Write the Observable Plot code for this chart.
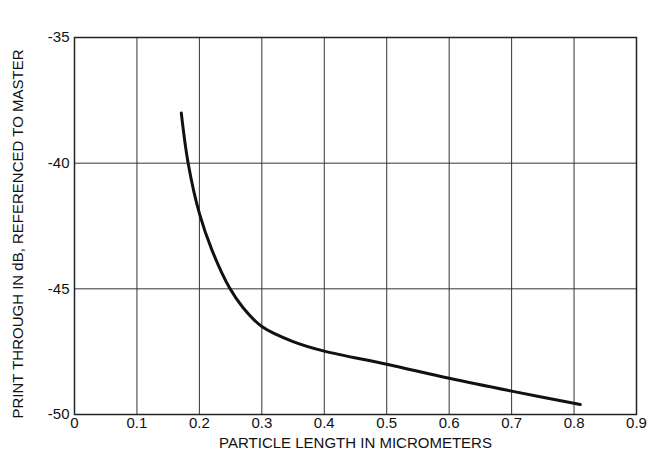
<!DOCTYPE html>
<html><head><meta charset="utf-8">
<script src="https://cdn.jsdelivr.net/npm/d3@7"></script>
<script src="https://cdn.jsdelivr.net/npm/@observablehq/plot@0.6"></script>
<style>body{margin:0;background:#fff}</style>
</head><body><div id="chart"></div>
<script>
const particleLength = [0.171, 0.182, 0.2, 0.22, 0.248, 0.27, 0.3, 0.35, 0.4, 0.5, 0.6, 0.7, 0.81];
const printThrough = [-38.0, -40.0, -42.0, -43.45, -44.95, -45.75, -46.5, -47.1, -47.48, -48.0, -48.56, -49.07, -49.6];
const xTicks = [0, 0.1, 0.2, 0.3, 0.4, 0.5, 0.6, 0.7, 0.8, 0.9];
const xTickLabels = ["0", "0.1", "0.2", "0.3", "0.4", "0.5", "0.6", "0.7", "0.8", "0.9"];
const yTicks = [-50, -45, -40, -35];
const yTickLabels = ["-50", "-45", "-40", "-35"];
const xLabel = "PARTICLE LENGTH IN MICROMETERS";
const yLabel = "PRINT THROUGH IN dB, REFERENCED TO MASTER";

const data = particleLength.map((x, i) => ({x, y: printThrough[i]}));

const chart = Plot.plot({
  width: 663, height: 456,
  marginLeft: 74, marginRight: 27, marginTop: 37, marginBottom: 42,
  style: {fontFamily: "Liberation Sans, Arial, sans-serif", fontSize: "15px", color: "#111", background: "#fff"},
  x: {domain: [0, 0.9]},
  y: {domain: [-50, -35]},
  marks: [
    Plot.gridX(xTicks, {stroke: "#333", strokeOpacity: 1, strokeWidth: 1}),
    Plot.gridY(yTicks, {stroke: "#333", strokeOpacity: 1, strokeWidth: 1}),
    Plot.frame({stroke: "#222", strokeWidth: 1.5}),
    Plot.axisX(xTicks, {tickSize: 0, tickPadding: 3, tickFormat: (d, i) => xTickLabels[i], label: null, fontSize: 15}),
    Plot.axisY(yTicks, {tickSize: 0, tickPadding: 5, tickFormat: (d, i) => yTickLabels[i], label: null, fontSize: 15}),
    Plot.text([xLabel], {frameAnchor: "bottom", dy: 33, fontSize: 15, fill: "#111"}),
    Plot.text([yLabel], {frameAnchor: "left", textAnchor: "middle", dx: -56, dy: 8, rotate: -90, fontSize: 15, fill: "#111", letterSpacing: "2.5px"}),
    Plot.line(data, {x: "x", y: "y", curve: "catmull-rom", stroke: "#111", strokeWidth: 3, strokeLinecap: "round"})
  ]
});
document.getElementById("chart").appendChild(chart);
</script>
</body></html>
